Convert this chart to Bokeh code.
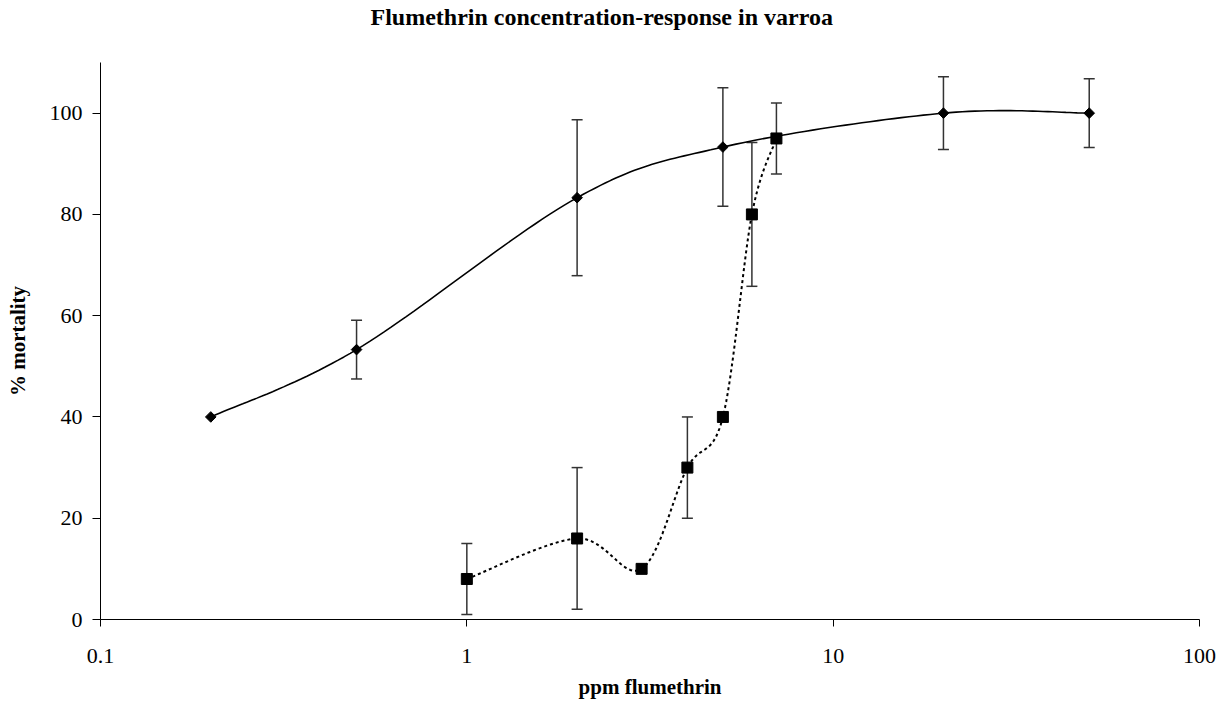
import numpy as np
from bokeh.plotting import figure
from bokeh.models import (ColumnDataSource, Whisker, TeeHead, FixedTicker,
                          CustomJSTickFormatter, Range1d, Title)
from bokeh.embed import file_html
from bokeh.resources import INLINE

# ---- data ----
adult_x = [0.2, 0.5, 2, 5, 20, 50]
adult_y = [40, 53.3, 83.3, 93.3, 100, 100]
adult_err = [0, 5.8, 15.4, 11.7, 7.2, 6.8]

mite_x = [1, 2, 3, 4, 5, 6, 7]
mite_y = [8, 16, 10, 30, 40, 80, 95]
mite_err = [7, 14, 0, 10, 0, 14.2, 7]

x_ticks = [0.1, 1, 10, 100]
y_ticks = [0, 20, 40, 60, 80, 100]

TITLE = "Flumethrin concentration-response in varroa"

FONT = "Liberation Serif"
W, H = 1218, 701
ML, MR, MT, MB = 100, 19, 62, 79
FW, FH = W - ML - MR, H - MT - MB
XMIN, XMAX, YMIN, YMAX = 0.1, 100, 0, 110
sx = FW / (np.log10(XMAX) - np.log10(XMIN))
sy = FH / (YMAX - YMIN)


def smooth(xs, ys, n=30):
    """Excel-like smoothed line: cubic Bezier through the points (screen space)."""
    u = np.log10(np.asarray(xs, float)) * sx
    v = np.asarray(ys, float) * sy
    P = np.column_stack([u, v])
    m = len(P)
    out = []
    for i in range(m - 1):
        p0 = P[max(i - 1, 0)]
        p1 = P[i]
        p2 = P[i + 1]
        p3 = P[min(i + 2, m - 1)]
        c1 = p1 + (p2 - p0) / 6.0
        c2 = p2 - (p3 - p1) / 6.0
        t = np.linspace(0, 1, n)[:, None]
        seg = ((1 - t) ** 3) * p1 + 3 * ((1 - t) ** 2) * t * c1 + 3 * (1 - t) * t ** 2 * c2 + t ** 3 * p2
        if i > 0:
            seg = seg[1:]
        out.append(seg)
    pts = np.vstack(out)
    return 10 ** (pts[:, 0] / sx), pts[:, 1] / sy


p = figure(width=W, height=H, x_axis_type="log",
           x_range=Range1d(XMIN, XMAX), y_range=Range1d(YMIN, YMAX),
           output_backend="svg", toolbar_location=None,
           min_border_left=ML, min_border_right=MR,
           min_border_top=MT, min_border_bottom=MB)
p.outline_line_color = None
p.grid.visible = False
p.background_fill_color = "white"
p.border_fill_color = "white"

# spacer between frame and title, then the title (centred on the chart area)
p.add_layout(Title(text=" ", text_font_size="1px", standoff=30), "above")
p.add_layout(Title(text=TITLE, align="left", offset=270, standoff=0,
                   vertical_align="bottom", text_font=FONT, text_font_style="bold",
                   text_font_size="24px", text_color="black"), "above")

for ax in (p.xaxis[0], p.yaxis[0]):
    ax.axis_line_color = "black"
    ax.axis_line_width = 1
    ax.major_tick_in = 0
    ax.minor_tick_line_color = None
    ax.major_tick_line_color = "black"
    ax.major_label_text_font = FONT
    ax.major_label_text_font_size = "22px"
    ax.major_label_text_color = "black"
    ax.axis_label_text_font = FONT
    ax.axis_label_text_font_style = "bold"
    ax.axis_label_text_font_size = "21px"
    ax.axis_label_text_color = "black"

p.xaxis[0].ticker = FixedTicker(ticks=x_ticks)
p.xaxis[0].formatter = CustomJSTickFormatter(code="return String(Math.round(tick*10)/10);")
p.xaxis[0].major_tick_out = 7
p.xaxis[0].major_label_standoff = 22
p.xaxis[0].axis_label = "ppm flumethrin"
p.xaxis[0].axis_label_standoff = 9

p.yaxis[0].ticker = FixedTicker(ticks=y_ticks)
p.yaxis[0].major_tick_out = 8
p.yaxis[0].major_label_standoff = 10
p.yaxis[0].axis_label = "% mortality"
p.yaxis[0].axis_label_standoff = 17

# smoothed lines
ax_s, ay_s = smooth(adult_x, adult_y)
p.line(ax_s, ay_s, line_color="black", line_width=1.6)
mx_s, my_s = smooth(mite_x, mite_y)
p.line(mx_s, my_s, line_color="black", line_width=2, line_dash="3 3")

# error bars
def add_err(xs, ys, es):
    keep = [i for i, e in enumerate(es) if e > 0]
    src = ColumnDataSource(dict(
        x=[xs[i] for i in keep],
        lo=[ys[i] - es[i] for i in keep],
        hi=[ys[i] + es[i] for i in keep]))
    w = Whisker(source=src, base="x", lower="lo", upper="hi", dimension="height",
                line_color="#333333", line_width=1.5,
                upper_head=TeeHead(size=11, line_color="#333333", line_width=1.5),
                lower_head=TeeHead(size=11, line_color="#333333", line_width=1.5))
    p.add_layout(w)

add_err(adult_x, adult_y, adult_err)
add_err(mite_x, mite_y, mite_err)

# markers
p.scatter(adult_x, adult_y, marker="square", angle=np.pi / 4, size=7.5,
          fill_color="black", line_color="black")
p.scatter(mite_x, mite_y, marker="square", size=11,
          fill_color="black", line_color="black")

open("out.html", "w").write(file_html(p, INLINE))
